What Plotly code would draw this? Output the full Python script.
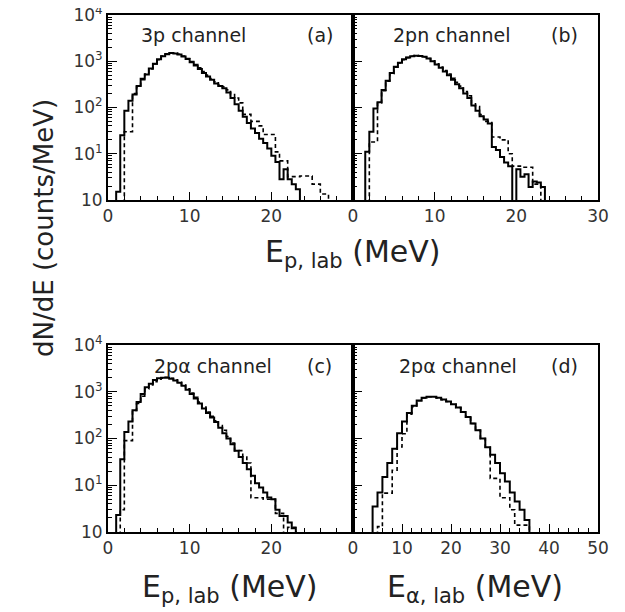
import plotly.graph_objects as go

# ---------------- data (counts/MeV) ----------------
# panel (a) 3p channel, proton energy, 0.5 MeV bins
a_bin = 0.5
a_solid_start = 1.0
a_solid = [1.5, 25, 85, 140, 190, 290, 420, 520, 700, 880, 1100, 1280, 1420, 1500, 1480,
           1400, 1260, 1120, 950, 810, 680, 560, 470, 400, 330, 290, 260, 210, 160, 118,
           85, 63, 46, 35, 28, 21, 17, 13, 9, 6.6, 2.8, 4.6, 2.8, 2.2, 1.7]
a_dash_start = 2.0
a_dash = [30, 30, 200, 280, 400, 530, 680, 870, 1080, 1300, 1450, 1500, 1500, 1420, 1300,
          1150, 990, 850, 720, 600, 500, 420, 360, 310, 280, 240, 190, 160, 126, 71,
          71, 50, 50, 40, 26, 26, 26, 11, 7, 7, 3.2, 3.2, 3.2, 3.3, 3.3, 3.3, 2.2, 2.2,
          1.35, 1.35]

# panel (b) 2pn channel, proton energy, 0.5 MeV bins
b_bin = 0.5
b_solid_start = 1.5
b_solid = [11, 30, 95, 130, 240, 380, 560, 760, 930, 1100, 1200, 1280, 1320, 1300, 1250,
           1150, 1000, 850, 720, 600, 500, 400, 320, 260, 200, 160, 110, 85, 65, 55,
           45, 14, 12, 8.5, 6.5, 5.4, 0, 4.6, 3.2, 3.6, 1.9, 2.5, 2.4, 1.9]
b_dash_start = 2.0
b_dash = [18, 18, 125, 230, 370, 540, 740, 920, 1080, 1200, 1280, 1320, 1300, 1250, 1150,
          1020, 880, 750, 630, 530, 430, 350, 290, 220, 180, 120, 105, 70, 50, 50,
          23, 23, 20, 20, 10, 5.4, 5.4, 5.1, 5.1, 5.1, 2.2, 2.2]

# panel (c) 2p-alpha channel, proton energy, 0.5 MeV bins
c_bin = 0.5
c_solid_start = 1.0
c_solid = [2.3, 36, 137, 230, 400, 600, 890, 1250, 1480, 1780, 1950, 2000, 2000, 1900,
           1750, 1550, 1350, 1100, 900, 720, 560, 440, 350, 280, 225, 170, 130, 100, 75,
           55, 40, 30, 22, 16, 11, 9, 7, 5.5, 5, 3, 2.2, 2.2, 1.6, 1.2]
c_dash_start = 1.5
c_dash = [3, 90, 90, 400, 560, 800, 1150, 1400, 1650, 1850, 1950, 2050, 1950, 1800, 1600,
          1400, 1150, 940, 760, 600, 470, 370, 300, 240, 190, 150, 110, 80, 55, 55,
          40, 30, 5.4, 5.4, 5.4, 5, 5, 5, 2.5, 2.5, 0, 1.26, 1.26]

# panel (d) 2p-alpha channel, alpha energy, 1 MeV bins
d_bin = 1.0
d_solid_start = 4.0
d_solid = [3.5, 7, 15, 30, 60, 130, 230, 350, 500, 650, 740, 780, 780, 740, 680, 620, 540,
           460, 370, 290, 210, 150, 100, 65, 45, 30, 18, 12, 7, 4.5, 3, 1.8]
d_dash_start = 5.0
d_dash = [1.3, 6.8, 6.8, 21, 66, 126, 330, 480, 640, 740, 780, 780, 740, 680, 620, 540,
          460, 370, 290, 210, 150, 100, 65, 14, 14, 5.4, 5.4, 3, 1.4, 1.4, 1.4]

panel_texts = ["3p channel", "2pn channel", "2p\u03b1 channel", "2p\u03b1 channel"]
panel_text_x = [0.35, 0.40, 0.43, 0.43]
panel_tags = ["(a)", "(b)", "(c)", "(d)"]
x_ranges = [[0, 30], [0, 30], [0, 30], [0, 50]]
x_tickvals = [[0, 10, 20], [0, 10, 20, 30], [0, 10, 20], [0, 10, 20, 30, 40, 50]]
y_tickvals = [1, 10, 100, 1000, 10000]
y_ticktext = ["10", "10<sup>1</sup>", "10<sup>2</sup>", "10<sup>3</sup>", "10<sup>4</sup>"]
y_minor = [m * 10 ** d for d in range(4) for m in range(2, 10)]

FLOOR = 0.3  # below the axis floor (10^0) so zero bins drop to the axis


def step(start, width, vals):
    n = len(vals)
    edges = [start + i * width for i in range(n + 1)]
    v = [x if x > 0 else FLOOR for x in vals]
    xs = [edges[0]] + edges[:-1] + [edges[-1], edges[-1]]
    ys = [FLOOR] + v + [v[-1], FLOOR]
    return xs, ys


FONT = "DejaVu Sans"
TXT = "#222"
W, H = 617, 604  # page body has an 8 px margin inside the 625x612 window
fig = go.Figure()


def fx(px):
    return (px - 8) / W


def fy(py):
    return 1 - (py - 8) / H


xd_left = [fx(108), fx(353)]
xd_right = [fx(353), fx(598)]
yd_top = [fy(200), fy(15)]
yd_bot = [fy(532), fy(345)]
domains = [(xd_left, yd_top), (xd_right, yd_top), (xd_left, yd_bot), (xd_right, yd_bot)]

series = [
    (a_solid_start, a_bin, a_solid, a_dash_start, a_bin, a_dash),
    (b_solid_start, b_bin, b_solid, b_dash_start, b_bin, b_dash),
    (c_solid_start, c_bin, c_solid, c_dash_start, c_bin, c_dash),
    (d_solid_start, d_bin, d_solid, d_dash_start, d_bin, d_dash),
]

for i, (s0, sw, sv, d0, dw, dv) in enumerate(series):
    k = "" if i == 0 else str(i + 1)
    xs, ys = step(d0, dw, dv)
    fig.add_trace(go.Scatter(x=xs, y=ys, mode="lines", line_shape="hv",
                             line=dict(color="black", width=1.6, dash="4px,3px"),
                             xaxis="x" + k, yaxis="y" + k, showlegend=False,
                             hoverinfo="skip"))
    xs, ys = step(s0, sw, sv)
    fig.add_trace(go.Scatter(x=xs, y=ys, mode="lines", line_shape="hv",
                             line=dict(color="black", width=2),
                             xaxis="x" + k, yaxis="y" + k, showlegend=False,
                             hoverinfo="skip"))

    xd, yd = domains[i]
    show_y = i in (0, 2)
    fig.layout["xaxis" + k] = dict(
        domain=xd, anchor="y" + k, range=x_ranges[i], tickvals=x_tickvals[i],
        automargin=False,
        ticks="inside", ticklen=8, tickwidth=1, tickcolor="black",
        minor=dict(dtick=2, tick0=0, ticks="inside", ticklen=4, tickcolor="black",
                   tickwidth=1),
        showline=True, linewidth=2, linecolor="black", mirror=True,
        showgrid=False, zeroline=False,
        tickfont=dict(family=FONT, size=17, color="#333"),
    )
    fig.layout["yaxis" + k] = dict(
        domain=yd, anchor="x" + k, type="log", range=[0, 4],
        tickvals=y_tickvals, ticktext=y_ticktext, showticklabels=show_y,
        automargin=False, ticklabeloverflow="allow",
        ticks="inside", ticklen=9, tickwidth=1, tickcolor="black",
        minor=dict(tickvals=y_minor, ticks="inside", ticklen=4, tickcolor="black",
                   tickwidth=1),
        showline=True, linewidth=2, linecolor="black", mirror=True,
        showgrid=False, zeroline=False,
        tickfont=dict(family=FONT, size=17, color="#333"),
    )
    fig.add_annotation(xref="x" + k + " domain", yref="y" + k + " domain",
                       x=panel_text_x[i], y=0.89, xanchor="center", yanchor="middle",
                       text=panel_texts[i], showarrow=False,
                       font=dict(family=FONT, size=19, color=TXT))
    fig.add_annotation(xref="x" + k + " domain", yref="y" + k + " domain",
                       x=0.865, y=0.89, xanchor="center", yanchor="middle",
                       text=panel_tags[i], showarrow=False,
                       font=dict(family=FONT, size=19, color=TXT))

# axis titles
title_font = dict(family=FONT, size=30, color=TXT)
fig.add_annotation(xref="paper", yref="paper", x=fx(353), y=fy(254),
                   xanchor="center", yanchor="middle",
                   text="E<sub>p, lab</sub> (MeV)", showarrow=False, font=title_font)
fig.add_annotation(xref="paper", yref="paper", x=fx(230), y=fy(588),
                   xanchor="center", yanchor="middle",
                   text="E<sub>p, lab</sub> (MeV)", showarrow=False, font=title_font)
fig.add_annotation(xref="paper", yref="paper", x=fx(475), y=fy(588),
                   xanchor="center", yanchor="middle",
                   text="E<sub>\u03b1, lab</sub> (MeV)", showarrow=False, font=title_font)
fig.add_annotation(xref="paper", yref="paper", x=fx(44), y=fy(228),
                   xanchor="center", yanchor="middle",
                   text="dN/dE (counts/MeV)", textangle=-90, showarrow=False,
                   font=dict(family=FONT, size=26, color=TXT))

fig.update_layout(width=W, height=H, margin=dict(l=0, r=0, t=0, b=0),
                  paper_bgcolor="white", plot_bgcolor="white")

fig.write_html("out.html")
